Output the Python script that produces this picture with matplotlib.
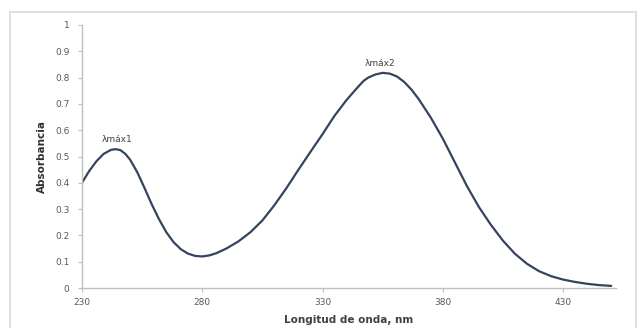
import matplotlib
matplotlib.use("Agg")
import matplotlib.pyplot as plt
from matplotlib.patches import Rectangle

wavelength = [230, 233, 236, 239, 242, 244, 246, 248, 250, 253, 256, 259, 262, 265, 268,
              271, 274, 277, 280, 283, 286, 290, 295, 300, 305, 310, 315, 320, 325, 330,
              335, 340, 344, 347, 349, 352, 355, 358, 361, 364, 367, 370, 375, 380, 385,
              390, 395, 400, 405, 410, 415, 420, 425, 430, 435, 440, 445, 450]
absorbance = [0.400, 0.445, 0.482, 0.510, 0.525, 0.528, 0.524, 0.510, 0.488, 0.440, 0.380,
              0.318, 0.262, 0.213, 0.175, 0.148, 0.131, 0.122, 0.120, 0.124, 0.133, 0.150,
              0.177, 0.212, 0.257, 0.315, 0.380, 0.450, 0.518, 0.585, 0.655, 0.715, 0.757,
              0.787, 0.800, 0.812, 0.818, 0.815, 0.804, 0.783, 0.754, 0.718, 0.648, 0.568,
              0.478, 0.388, 0.308, 0.240, 0.180, 0.130, 0.092, 0.064, 0.045, 0.032, 0.023,
              0.016, 0.011, 0.008]

x_ticks = [230, 280, 330, 380, 430]
y_ticks = [0, 0.1, 0.2, 0.3, 0.4, 0.5, 0.6, 0.7, 0.8, 0.9, 1]
y_tick_labels = ["0", "0.1", "0.2", "0.3", "0.4", "0.5", "0.6", "0.7", "0.8", "0.9", "1"]
peak_labels = ["λmáx1", "λmáx2"]
peak_pos = [(244.5, 0.565), (354, 0.852)]

fig = plt.figure(figsize=(6.39, 3.28), dpi=100)
fig.patch.set_facecolor("white")
# chart-area border
fig.add_artist(Rectangle((10 / 639, -0.05), 626 / 639, 1 - 12 / 328 + 0.05,
                         transform=fig.transFigure, fill=False,
                         edgecolor="#d9d9d9", linewidth=1.2))

ax = fig.add_axes([82 / 639, 1 - 288 / 328, (616 - 82) / 639, (288 - 25) / 328])
ax.plot(wavelength, absorbance, color="#34445e", linewidth=1.6,
        solid_joinstyle="round", solid_capstyle="round")

ax.set_xlim(230, 452)
ax.set_ylim(0, 1)
ax.set_xticks(x_ticks)
ax.set_xticklabels([str(v) for v in x_ticks])
ax.set_yticks(y_ticks)
ax.set_yticklabels(y_tick_labels)

for s in ["top", "right"]:
    ax.spines[s].set_visible(False)
for s in ["left", "bottom"]:
    ax.spines[s].set_color("#bfbfbf")
    ax.spines[s].set_linewidth(1.0)

ax.tick_params(axis="both", colors="#bfbfbf", labelcolor="#595959", labelsize=6.5,
               length=3, width=0.8, direction="out")
ax.tick_params(axis="y", pad=6)
ax.tick_params(axis="x", pad=4)

ax.set_xlabel("Longitud de onda, nm", fontsize=7.5, fontweight="bold", color="#404040",
              labelpad=6)
ax.set_ylabel("Absorbancia", fontsize=7.5, fontweight="bold", color="#303030",
              labelpad=6)

for lab, (px, py) in zip(peak_labels, peak_pos):
    ax.text(px, py, lab, ha="center", va="center", fontsize=6.5, color="#404040")

fig.savefig("out.png", dpi=100, facecolor="white")
